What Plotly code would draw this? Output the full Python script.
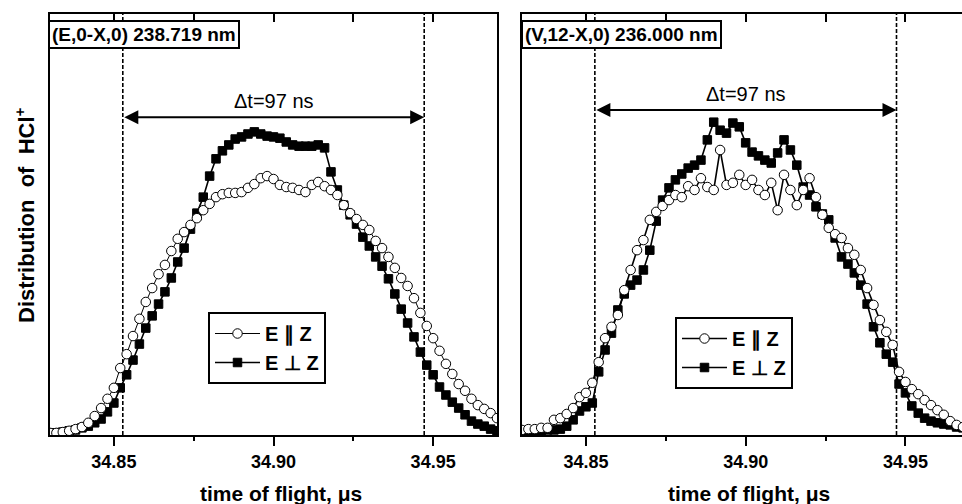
import plotly.graph_objects as go

# ---------------- data ----------------
time_left = [34.830, 34.832, 34.834, 34.836, 34.838, 34.840, 34.842, 34.844, 34.846, 34.848,
             34.850, 34.852, 34.854, 34.856, 34.858, 34.860, 34.862, 34.864, 34.866, 34.868,
             34.870, 34.872, 34.874, 34.876, 34.878, 34.880, 34.882, 34.884, 34.886, 34.888,
             34.890, 34.892, 34.894, 34.896, 34.898, 34.900, 34.902, 34.904, 34.906, 34.908,
             34.910, 34.912, 34.914, 34.916, 34.918, 34.920, 34.922, 34.924, 34.926, 34.928,
             34.930, 34.932, 34.934, 34.936, 34.938, 34.940, 34.942, 34.944, 34.946, 34.948,
             34.950, 34.952, 34.954, 34.956, 34.958, 34.960, 34.962, 34.964, 34.966, 34.968,
             34.970]

left_par = [0.005, 0.005, 0.007, 0.010, 0.014, 0.019, 0.029, 0.045, 0.064, 0.086,
            0.112, 0.159, 0.192, 0.235, 0.276, 0.316, 0.349, 0.382, 0.404, 0.437,
            0.466, 0.482, 0.499, 0.515, 0.534, 0.549, 0.565, 0.572, 0.575, 0.575,
            0.577, 0.587, 0.596, 0.610, 0.615, 0.608, 0.594, 0.589, 0.587, 0.582,
            0.577, 0.594, 0.601, 0.591, 0.582, 0.570, 0.546, 0.527, 0.513, 0.499,
            0.487, 0.461, 0.444, 0.423, 0.397, 0.373, 0.354, 0.325, 0.290, 0.259,
            0.230, 0.200, 0.169, 0.145, 0.121, 0.105, 0.086, 0.071, 0.062, 0.052,
            0.040]

left_perp = [0.005, 0.005, 0.007, 0.010, 0.012, 0.017, 0.021, 0.029, 0.038, 0.055,
             0.076, 0.112, 0.143, 0.178, 0.216, 0.254, 0.283, 0.311, 0.340, 0.373,
             0.411, 0.444, 0.489, 0.527, 0.565, 0.615, 0.656, 0.675, 0.689, 0.703,
             0.708, 0.715, 0.720, 0.715, 0.710, 0.708, 0.705, 0.696, 0.689, 0.686,
             0.686, 0.686, 0.689, 0.682, 0.625, 0.582, 0.546, 0.523, 0.501, 0.470,
             0.449, 0.423, 0.401, 0.371, 0.335, 0.299, 0.266, 0.233, 0.197, 0.166,
             0.143, 0.114, 0.095, 0.078, 0.064, 0.048, 0.033, 0.026, 0.021, 0.014,
             0.010]

time_right = [34.830, 34.832, 34.834, 34.836, 34.838, 34.840, 34.842, 34.844, 34.846, 34.848,
              34.850, 34.852, 34.854, 34.856, 34.858, 34.860, 34.862, 34.864, 34.866, 34.868,
              34.870, 34.872, 34.874, 34.876, 34.878, 34.880, 34.882, 34.884, 34.886, 34.888,
              34.890, 34.892, 34.894, 34.896, 34.898, 34.900, 34.902, 34.904, 34.906, 34.908,
              34.910, 34.912, 34.914, 34.916, 34.918, 34.920, 34.922, 34.924, 34.926, 34.928,
              34.930, 34.932, 34.934, 34.936, 34.938, 34.940, 34.942, 34.944, 34.946, 34.948,
              34.950, 34.952, 34.954, 34.956, 34.958, 34.960, 34.962, 34.964, 34.966, 34.968]

right_par = [0.012, 0.014, 0.014, 0.017, 0.017, 0.036, 0.040, 0.050, 0.064, 0.090,
             0.100, 0.124, 0.173, 0.230, 0.257, 0.285, 0.344, 0.392, 0.439, 0.463,
             0.511, 0.530, 0.544, 0.558, 0.570, 0.565, 0.591, 0.582, 0.610, 0.589,
             0.582, 0.677, 0.594, 0.599, 0.618, 0.594, 0.606, 0.582, 0.570, 0.599,
             0.534, 0.618, 0.582, 0.546, 0.582, 0.610, 0.565, 0.523, 0.492, 0.477,
             0.468, 0.444, 0.428, 0.392, 0.349, 0.309, 0.273, 0.245, 0.214, 0.150,
             0.126, 0.109, 0.097, 0.083, 0.071, 0.059, 0.048, 0.033, 0.024, 0.019]

right_perp = [0.005, 0.005, 0.005, 0.007, 0.012, 0.012, 0.014, 0.021, 0.036, 0.057,
              0.067, 0.076, 0.150, 0.202, 0.242, 0.297, 0.335, 0.356, 0.368, 0.392,
              0.439, 0.508, 0.558, 0.587, 0.606, 0.620, 0.634, 0.641, 0.653, 0.701,
              0.743, 0.724, 0.717, 0.741, 0.732, 0.694, 0.672, 0.663, 0.653, 0.646,
              0.670, 0.701, 0.677, 0.641, 0.589, 0.570, 0.542, 0.525, 0.511, 0.468,
              0.423, 0.406, 0.385, 0.356, 0.311, 0.257, 0.219, 0.192, 0.173, 0.121,
              0.100, 0.069, 0.052, 0.040, 0.033, 0.029, 0.026, 0.024, 0.019, 0.017]

series_names = ["E \u2225 Z", "E \u22a5 Z"]
panel_labels = ["(E,0-X,0) 238.719 nm", "(V,12-X,0) 236.000 nm"]
delta_t_text = "\u0394t=97 ns"
window_edges = [34.8528, 34.9472]          # dashed lines (start / end of window)
arrow_level = [0.755, 0.772]                # height of the double arrow in each panel
x_title = "time of flight, \u03bcs"
y_title = "Distribution\u00a0 of\u00a0 HCl<sup>+</sup>"
x_range_left = [34.83, 34.97]
x_range_right = [34.83, 34.9677]

FONT = "Liberation Sans"
W, H = 962, 504

def px(xp):
    return xp / W

def py(yp):
    return (H - yp) / H

fig = go.Figure()

circle_marker = dict(symbol="circle", size=9.5, color="white", line=dict(color="black", width=1))
square_marker = dict(symbol="square", size=8.5, color="black", line=dict(color="black", width=1))

# left panel: circles (plotted against the top axis, same range) under squares
fig.add_trace(go.Scatter(x=time_left, y=left_par, mode="lines+markers", name=series_names[0],
                         marker=circle_marker, line=dict(color="black", width=1),
                         xaxis="x3", yaxis="y", legend="legend"))
fig.add_trace(go.Scatter(x=time_left, y=left_perp, mode="lines+markers", name=series_names[1],
                         marker=square_marker, line=dict(color="black", width=1.6),
                         xaxis="x", yaxis="y", legend="legend"))
# right panel: squares under circles
fig.add_trace(go.Scatter(x=time_right, y=right_perp, mode="lines+markers", name=series_names[1],
                         marker=square_marker, line=dict(color="black", width=1.6),
                         xaxis="x2", yaxis="y2", legend="legend2", legendrank=2))
fig.add_trace(go.Scatter(x=time_right, y=right_par, mode="lines+markers", name=series_names[0],
                         marker=circle_marker, line=dict(color="black", width=1.6),
                         xaxis="x4", yaxis="y2", legend="legend2", legendrank=1))

tickfont = dict(family=FONT, size=18, color="black", weight="bold")
ydom = [py(435), py(14)]
dom_left = [px(50), px(497)]
dom_right = [px(522), 1.0]

def bottom_axis(dom, rng, anchor):
    return dict(domain=dom, range=rng, anchor=anchor, showline=True, linecolor="black",
                linewidth=2, mirror=True, ticks="outside", ticklen=9, tickwidth=2,
                tickcolor="black", tick0=34.85, dtick=0.05, tickformat=".2f",
                minor=dict(ticks="outside", ticklen=4, tickwidth=2, tickcolor="black",
                           tick0=34.85, dtick=0.025),
                showgrid=False, zeroline=False, tickfont=tickfont)

def top_axis(over, rng, anchor):
    return dict(overlaying=over, side="top", anchor=anchor, range=rng, showline=False,
                ticks="inside", ticklen=8, tickwidth=2, tickcolor="black",
                tick0=34.85, dtick=0.025, showticklabels=False, showgrid=False,
                zeroline=False)

def y_axis(anchor, mirror):
    return dict(domain=ydom, range=[0, 1], anchor=anchor, showline=True, linecolor="black",
                linewidth=2, mirror=mirror, ticks="", showticklabels=False,
                showgrid=False, zeroline=False)

legend_common = dict(xanchor="left", yanchor="top", bordercolor="black", borderwidth=2,
                     bgcolor="white", traceorder="normal", itemwidth=45,
                     font=dict(family=FONT, size=20, color="black", weight="bold"))

fig.update_layout(
    width=W, height=H, margin=dict(l=0, r=0, t=0, b=0),
    paper_bgcolor="white", plot_bgcolor="white", showlegend=True,
    xaxis=bottom_axis(dom_left, x_range_left, "y"),
    xaxis2=bottom_axis(dom_right, x_range_right, "y2"),
    xaxis3=top_axis("x", x_range_left, "y"),
    xaxis4=top_axis("x2", x_range_right, "y2"),
    yaxis=y_axis("x", True),
    yaxis2=y_axis("x2", False),
    legend=dict(x=px(208), y=py(312), **legend_common),
    legend2=dict(x=px(675), y=py(317), **legend_common),
)

shapes = []
for xr, yr in (("x", "y domain"), ("x2", "y2 domain")):
    for edge in window_edges:
        shapes.append(dict(type="line", xref=xr, yref=yr, x0=edge, x1=edge, y0=0, y1=1,
                           line=dict(color="black", width=1.6, dash="4px,2px"), layer="below"))
fig.update_layout(shapes=shapes)

annotations = []
# double arrows and delta-t texts
for (xr, yr), lvl in zip((("x", "y"), ("x2", "y2")), arrow_level):
    annotations.append(dict(x=window_edges[1], y=lvl, ax=window_edges[0], ay=lvl,
                            xref=xr, yref=yr, axref=xr, ayref=yr, text="",
                            showarrow=True, arrowhead=2, arrowside="end+start",
                            arrowsize=1.4, arrowwidth=2, arrowcolor="black",
                            standoff=0, startstandoff=0))
    annotations.append(dict(x=(window_edges[0] + window_edges[1]) / 2, y=lvl + 0.008,
                            xref=xr, yref=yr, text=delta_t_text, showarrow=False,
                            yanchor="bottom",
                            font=dict(family=FONT, size=20, color="black")))
# panel labels (boxed)
for xl, lab in zip((48, 521), panel_labels):
    annotations.append(dict(x=px(xl), y=py(20), xref="paper", yref="paper", xanchor="left",
                            yanchor="top", text=lab, showarrow=False, bgcolor="white",
                            bordercolor="black", borderwidth=2, borderpad=2,
                            font=dict(family=FONT, size=19, color="black", weight="bold")))
# axis titles
for xc in (281, 749):
    annotations.append(dict(x=px(xc), y=py(493), xref="paper", yref="paper", text=x_title,
                            showarrow=False, xanchor="center", yanchor="middle",
                            font=dict(family=FONT, size=21, color="black", weight="bold")))
annotations.append(dict(x=px(25), y=py(215), xref="paper", yref="paper", text=y_title,
                        textangle=-90, showarrow=False, xanchor="center", yanchor="middle",
                        font=dict(family=FONT, size=22, color="black", weight="bold")))
fig.update_layout(annotations=annotations)

fig.write_html("out.html")
